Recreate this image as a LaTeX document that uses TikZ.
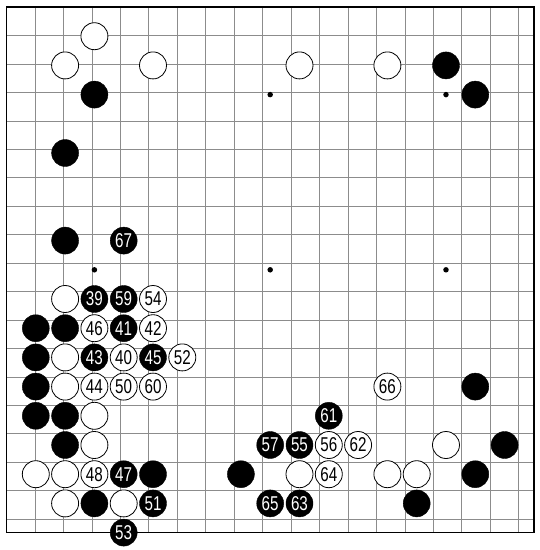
\documentclass[tikz,border=0pt]{standalone}
\usepackage{fontspec}
\newfontfamily\stonefont[FakeStretch=0.76]{Liberation Sans}
\definecolor{gridgrey}{HTML}{8C8C8C}

\begin{document}
\begin{tikzpicture}[x=29.3pt,y=-29.2pt,
    bs/.style={circle,draw=black,fill=black,minimum size=27pt,inner sep=0pt,
      text=white,font=\stonefont\fontsize{20}{20}\selectfont},
    ws/.style={circle,draw=black,line width=0.8pt,fill=white,minimum size=27pt,inner sep=0pt,
      font=\stonefont\fontsize{20}{20}\selectfont},
    hoshi/.style={circle,fill=black,minimum size=5.5pt,inner sep=0pt}]
  \useasboundingbox (-0.222,-0.24) rectangle (18.208,18.596);
  % board
  \draw[gridgrey,line width=0.6pt] (0,0) grid (18,18);
  \draw[line width=1.6pt] (0,0) rectangle (18,18);
  \foreach \c in {3,9,15} { \foreach \r in {3,9,15} { \node[hoshi] (h\c-\r) at (\c,\r) {}; } }
  % unnumbered stones
  \foreach \c/\r in {3/3,15/2,16/3,2/5,2/8,1/11,2/11,1/12,1/13,1/14,2/14,2/15,
      5/16,3/17,8/16,16/13,17/15,16/16,14/17}
    { \node[bs] (b\c-\r) at (\c,\r) {}; }
  \foreach \c/\r in {3/1,2/2,5/2,10/2,13/2,2/10,2/12,2/13,3/14,3/15,1/16,2/16,
      2/17,4/17,10/16,15/15,13/16,14/16}
    { \node[ws] (w\c-\r) at (\c,\r) {}; }
  % numbered moves
  \foreach \c/\r/\n in {3/10/39,4/10/59,4/11/41,3/12/43,5/12/45,4/8/67,4/16/47,
      5/17/51,4/18/53,11/14/61,9/15/57,10/15/55,9/17/65,10/17/63}
    { \node[bs] (m\n) at (\c,\r) {\n}; }
  \foreach \c/\r/\n in {5/10/54,3/11/46,5/11/42,4/12/40,6/12/52,3/13/44,4/13/50,
      5/13/60,13/13/66,11/15/56,12/15/62,11/16/64,3/16/48}
    { \node[ws] (m\n) at (\c,\r) {\n}; }
\end{tikzpicture}
\end{document}
